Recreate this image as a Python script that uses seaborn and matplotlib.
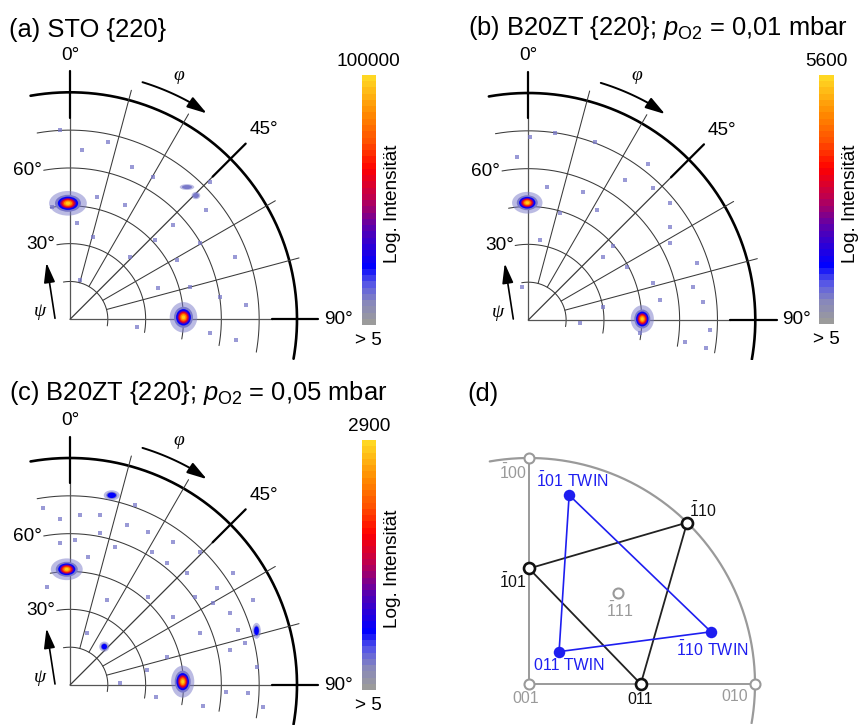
import numpy as np
import pandas as pd
import matplotlib
matplotlib.use("Agg")
import matplotlib.pyplot as plt
import seaborn as sns
from matplotlib.colors import LinearSegmentedColormap, ListedColormap, Normalize
from matplotlib.patches import Ellipse
import matplotlib.cm as cm

sns.set_theme(style="white")
plt.rcParams["font.family"] = ["Liberation Sans", "DejaVu Sans"]
plt.rcParams["text.color"] = "black"
plt.rcParams["mathtext.fontset"] = "custom"
plt.rcParams["mathtext.rm"] = "Liberation Sans"
plt.rcParams["mathtext.it"] = "Liberation Sans:italic"
plt.rcParams["mathtext.bf"] = "Liberation Sans:bold"

# ---------------- data ----------------
titles = ["(a) STO {220}",
          "(b) B20ZT {220}; $p_{\\mathrm{O2}}$ = 0,01 mbar",
          "(c) B20ZT {220}; $p_{\\mathrm{O2}}$ = 0,05 mbar",
          "(d)"]
cbar_max_labels = ["100000", "5600", "2900"]
cbar_min_label = "> 5"
cbar_title = "Log. Intensität"

ring_psi = [15, 30, 45, 60, 75]
outer_psi = 90
spoke_phi_minor = [15, 30, 60, 75]
spoke_phi_major = [0, 45, 90]
phi_tick_vals = [0, 45, 90]
phi_tick_labels = ["0°", "45°", "90°"]
psi_tick_vals = [30, 60]
psi_tick_labels = ["30°", "60°"]

# peaks: phi (deg), psi (deg), relative log level (0..1)
peaks_a_phi = [-1.0, 89.0, 45.5, 41.5]
peaks_a_psi = [46.0, 45.0, 70.0, 70.0]
peaks_a_lvl = [1.0, 1.0, 0.22, 0.12]

peaks_b_phi = [-0.5, 89.5]
peaks_b_psi = [46.5, 45.2]
peaks_b_lvl = [1.0, 1.0]

peaks_c_phi = [-1.6, 88.3, 12.4, 41.8, 73.8]
peaks_c_psi = [45.9, 44.7, 77.0, 20.4, 77.0]
peaks_c_lvl = [1.0, 1.0, 0.28, 0.26, 0.3]

# weak background specks: phi, psi
speck_a_phi = [-3, 3.9, 12.2, 22, 30.3, 45.5, 51.3, 69.2, 85.4, 81.4, 95.7, 97, 60.9, 47,
               25.7, 15.8, 4, 12.3, 59.7, 47.6, 43.8, 70.7, 96.3, -9.2, 14.3, 74.8]
speck_a_psi = [75.1, 67.3, 72, 65.2, 65.5, 77.8, 69.3, 69.9, 70.2, 60.1, 55.7, 66.5, 48.4, 46.1,
               50.3, 34, 38.1, 49.7, 59.7, 55.4, 34.4, 37.1, 26.6, 45.2, 16, 49.3]
speck_b_phi = [0.5, 8.1, 20.5, -4.1, 23.2, 34.6, 37.5, 43.5, 50.5, 56.6, 61.6, 71.4, 84, 93.2, 99,
               97.9, 61.5, 49.2, 31.8, 16.5, 8.3, 49.8, 73.7, 81.4, 79.9, 93.7, 96.8, 7.8, -11.3, 78.6]
speck_b_psi = [72.7, 74.7, 75.4, 64.9, 55.4, 67.4, 78.2, 72, 72.7, 67.2, 63.9, 70.4, 69.7, 72, 71.5,
               62.6, 44.4, 44.6, 51.4, 44.2, 32, 38.9, 51.6, 52.8, 30.2, 20.5, 44.6, 53.3, 13.5, 66.7]
speck_c_phi = [-8.6, -3.4, 3.4, 10, 19.9, 19.5, 27, 35.8, 38.5, 44.3, 56.6, 65.9, 71.9, 76.6, 92.7,
               96.4, 84.4, 60.3, 54.8, 31.5, 18, 8.1, -4, -13, 23.3, 41.6, 68.3, 77.7, 73.7, 78.9,
               88, 97.7, 99, 92.4, 17.9, 2, 11.2, 46.3, 55.6, 65.1, 56.5]
speck_c_psi = [70.8, 66, 67.5, 68.4, 75.8, 67.3, 68.2, 70, 61.6, 73.8, 69.6, 69.5, 70.2, 71.3, 70.8,
               77.1, 74.3, 65.4, 60.7, 62, 57.7, 51.4, 56.3, 40, 36.7, 46.8, 55.4, 64.9, 40, 31,
               19.8, 34.6, 53.5, 62.1, 21.5, 57.5, 61.3, 64, 78.4, 80, 49.1]

# panel (d): poles (phi, psi)
ref_names = ["001", "$\\bar{1}$00", "010", "$\\bar{1}$11"]
ref_phi = [0.0, 0.0, 90.0, 44.4]
ref_psi = [0.0, 90.0, 90.0, 50.6]
mat_names = ["$\\bar{1}$01", "$\\bar{1}$10", "011"]
mat_phi = [0.0, 44.4, 90.0]
mat_psi = [46.0, 90.0, 44.5]
twin_names = ["$\\bar{1}$01 TWIN", "$\\bar{1}$10 TWIN", "011 TWIN"]
twin_phi = [12.0, 74.0, 42.9]
twin_psi = [76.9, 75.4, 17.6]

# ---------------- style ----------------
W, H = 863, 725
fig = plt.figure(figsize=(W / 100, H / 100), dpi=100)

cmap_anchor = [(0.00, (155, 155, 155)), (0.08, (135, 135, 188)), (0.15, (90, 90, 228)),
               (0.23, (0, 0, 255)), (0.32, (50, 0, 210)), (0.40, (100, 0, 165)),
               (0.50, (185, 0, 85)), (0.63, (255, 0, 0)), (0.74, (255, 80, 0)),
               (0.86, (255, 140, 0)), (1.00, (255, 215, 35))]
base = LinearSegmentedColormap.from_list(
    "pf", [(p, tuple(c / 255 for c in col)) for p, col in cmap_anchor])
cmap = ListedColormap(base(np.linspace(0, 1, 40)))

layer_t = [0.03, 0.12, 0.23, 0.4, 0.55, 0.7, 0.85, 0.97]
layer_f = [1.45, 1.0, 0.78, 0.62, 0.52, 0.42, 0.31, 0.18]

peak_shape = {  # width, height in px
    "a": [(26, 17), (19, 21), (6, 5), (10, 4)],
    "b": [(21, 15), (16, 19)],
    "c": [(22, 15), (16, 22), (11, 7), (7, 7), (6, 11)],
}

THIN = "#3a3a3a"


def pol(phi, psi):
    p = np.radians(np.asarray(phi, dtype=float))
    r = np.asarray(psi, dtype=float)
    return r * np.sin(p), r * np.cos(p)


def pole_axes(cx, cy, S, xl=(-27.0, 112.0), yl=(-16.0, 112.0)):
    left = cx + xl[0] * S
    right = cx + xl[1] * S
    top = cy - yl[1] * S
    bottom = cy - yl[0] * S
    ax = fig.add_axes([left / W, 1 - bottom / H, (right - left) / W, (bottom - top) / H])
    ax.set_xlim(xl)
    ax.set_ylim(yl)
    ax.axis("off")
    return ax


def draw_pole(ax, S, peaks, shapes, specks):
    arc = np.linspace(-10, 100, 300)
    for r in ring_psi:
        x, y = pol(arc, np.full_like(arc, r))
        ax.plot(x, y, color=THIN, lw=0.75, zorder=3)
    x, y = pol(arc, np.full_like(arc, outer_psi))
    ax.plot(x, y, color="black", lw=1.9, zorder=3)
    for p in spoke_phi_minor:
        x, y = pol([p, p], [15, 94])
        ax.plot(x, y, color=THIN, lw=0.75, zorder=3)
    for p in spoke_phi_major:
        x, y = pol([p, p], [0, 80])
        ax.plot(x, y, color="#555555" if p != 45 else THIN, lw=0.9, zorder=3)
        x, y = pol([p, p], [80, 98.5])
        ax.plot(x, y, color="black", lw=1.6, zorder=3)
    # labels
    for v, lab in zip(phi_tick_vals, phi_tick_labels):
        rr = {0: 104.7, 45: 107.5, 90: 106.5}[v]
        x, y = pol(v + (0.7 if v == 45 else 0), rr)
        ax.text(x, y, lab, ha="center", va="center", fontsize=13.7, color="black")
    for v, lab in zip(psi_tick_vals, psi_tick_labels):
        x, y = pol(-10.5, v)
        ax.text(x - 0.3, y, lab, ha="right", va="center", fontsize=13.7, color="black")
    # phi arrow
    parc = np.linspace(17, 30, 60)
    x, y = pol(parc, np.full_like(parc, 98.3))
    ax.plot(x, y, color="black", lw=1.4, zorder=3)
    ax.annotate("", xy=pol(33.6, 98.0), xytext=pol(29.0, 98.3),
                arrowprops=dict(arrowstyle="-|>,head_length=1.0,head_width=0.3",
                                mutation_scale=12, color="black", lw=1.4,
                                shrinkA=0, shrinkB=0))
    x, y = pol(24, 106)
    ax.text(x, y, "φ", ha="center", va="center", fontsize=14,
            family=["Liberation Serif", "DejaVu Serif"], style="italic")
    # psi arrow
    ax.annotate("", xy=pol(-22.6, 24.3), xytext=pol(-86.2, 5.96),
                arrowprops=dict(arrowstyle="-|>,head_length=1.0,head_width=0.28",
                                mutation_scale=12, color="black", lw=1.2,
                                shrinkA=0, shrinkB=0))
    x, y = pol(-75.8, 12.3)
    ax.text(x, y, "ψ", ha="center", va="center", fontsize=14,
            family=["Liberation Serif", "DejaVu Serif"], style="italic")
    # specks
    sx, sy = pol(specks[0], specks[1])
    df = pd.DataFrame({"x": sx, "y": sy})
    sns.scatterplot(data=df, x="x", y="y", marker="s", s=6, color=cmap(0.11),
                    linewidth=0, alpha=0.75, ax=ax, legend=False, zorder=4)
    # peaks
    for (ph, ps, lv), (w, h) in zip(zip(*peaks), shapes):
        cx, cy = pol(ph, ps)
        for k, (t, f) in enumerate(zip(layer_t, layer_f)):
            if t > lv + 1e-9:
                break
            e = Ellipse((float(cx), float(cy)), w * f / S, h * f / S,
                        facecolor=cmap(max(t, 0.1)), edgecolor="none",
                        alpha=0.5 if k == 0 else 1.0, zorder=5 + k)
            ax.add_patch(e)


def colorbar(x0, x1, y0, y1, top_label):
    cax = fig.add_axes([x0 / W, 1 - y1 / H, (x1 - x0) / W, (y1 - y0) / H])
    sm = cm.ScalarMappable(norm=Normalize(0, 1), cmap=cmap)
    cb = fig.colorbar(sm, cax=cax)
    cb.outline.set_visible(False)
    cb.set_ticks([])
    xc = (x0 + x1) / 2
    fig.text(xc / W, 1 - (y0 - 13.5) / H, top_label, ha="center", va="center", fontsize=13.7)
    fig.text(xc / W, 1 - (y1 + 15) / H, cbar_min_label, ha="center", va="center", fontsize=13.7)
    fig.text((x1 + 16.5) / W, 1 - ((y0 + y1) / 2 + 4) / H, cbar_title, ha="center", va="center",
             rotation=90, fontsize=13.7)


S_pf = 227 / 90
panels = [
    (70.0, 319.3, (peaks_a_phi, peaks_a_psi, peaks_a_lvl), peak_shape["a"], (speck_a_phi, speck_a_psi)),
    (528.3, 320.0, (peaks_b_phi, peaks_b_psi, peaks_b_lvl), peak_shape["b"], (speck_b_phi, speck_b_psi)),
    (70.0, 685.0, (peaks_c_phi, peaks_c_psi, peaks_c_lvl), peak_shape["c"], (speck_c_phi, speck_c_psi)),
]
for cx, cy, pk, shp, sp in panels:
    ax = pole_axes(cx, cy, S_pf)
    draw_pole(ax, S_pf, pk, shp, sp)

colorbar(361.7, 376.0, 75.0, 325.0, cbar_max_labels[0])
colorbar(819.3, 834.3, 75.0, 324.0, cbar_max_labels[1])
colorbar(361.7, 376.0, 440.0, 690.0, cbar_max_labels[2])

# titles
for (tx, ty), t in zip([(9, 36.5), (468, 35.5), (9, 400), (467, 401)], titles):
    fig.text(tx / W, 1 - ty / H, t, ha="left", va="baseline", fontsize=18.4)

# ---------------- panel (d) ----------------
S_d = 226 / 90
axd = pole_axes(529.0, 684.0, S_d)
GRAY = "#9a9a9a"
BLUE = "#1e1ef0"
arc = np.linspace(-10, 100, 300)
x, y = pol(arc, np.full_like(arc, 90))
axd.plot(x, y, color=GRAY, lw=1.6, zorder=2)
for p in [0, 90]:
    x, y = pol([p, p], [0, 90])
    axd.plot(x, y, color=GRAY, lw=1.4, zorder=2)

mx, my = pol(mat_phi + mat_phi[:1], mat_psi + mat_psi[:1])
sns.lineplot(x=mx, y=my, sort=False, estimator=None, color="#222222", lw=1.3, ax=axd, zorder=3)
tx_, ty_ = pol(twin_phi + twin_phi[:1], twin_psi + twin_psi[:1])
sns.lineplot(x=tx_, y=ty_, sort=False, estimator=None, color=BLUE, lw=1.2, ax=axd, zorder=3)

rx, ry = pol(ref_phi, ref_psi)
sns.scatterplot(x=rx, y=ry, s=(10 * 0.72) ** 2, facecolor="white", edgecolor=GRAY,
                linewidth=1.5, ax=axd, legend=False, zorder=6)
bx, by = pol(mat_phi, mat_psi)
sns.scatterplot(x=bx, y=by, s=(11 * 0.72) ** 2, facecolor="white", edgecolor="#111111",
                linewidth=1.9, ax=axd, legend=False, zorder=7)
wx, wy = pol(twin_phi, twin_psi)
sns.scatterplot(x=wx, y=wy, s=(11.5 * 0.72) ** 2, color=BLUE, linewidth=0,
                ax=axd, legend=False, zorder=7)

ref_off = [(-3, -14.3), (-16, -14.7), (-20, -12.7), (1.6, -17.7)]
mat_off = [(-15.7, -13.4), (15.6, 12.4), (-0.7, -15.3)]
twin_off = [(3.4, 14.3), (1.3, -17.6), (10.3, -14.3)]
for names, xs, ys, offs, col in [(ref_names, rx, ry, ref_off, GRAY),
                                  (mat_names, bx, by, mat_off, "#111111"),
                                  (twin_names, wx, wy, twin_off, BLUE)]:
    for n, xx, yy, o in zip(names, xs, ys, offs):
        axd.annotate(n, xy=(xx, yy), xytext=o, textcoords="offset pixels",
                     ha="center", va="center", fontsize=11.5, color=col, zorder=8)

fig.savefig("out.png", dpi=100)
